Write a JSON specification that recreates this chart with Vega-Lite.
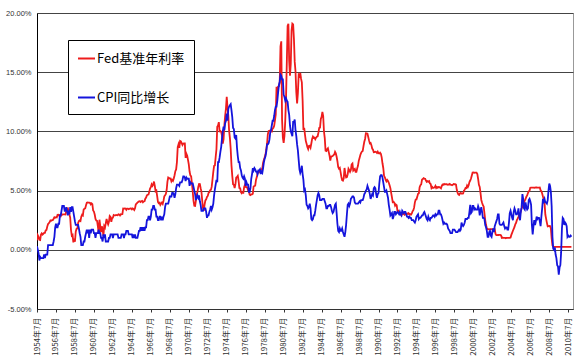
{
"$schema": "https://vega.github.io/schema/vega-lite/v6.json",
"width": 536, "height": 296,
"autosize": {"type": "none"},
"padding": {"left": 37, "top": 13, "right": 4, "bottom": 48},
"background": "white",
"config": {"view": {"stroke": "#999", "strokeWidth": 1}},
"data": {"values": [
{"m":0,"f":0.8,"c":0.3},{"m":1,"f":1.22,"c":0},{"m":2,"f":1.07,"c":-0.3},{"m":3,"f":0.85,"c":-0.9},{"m":4,"f":0.83,"c":-0.6},{"m":5,"f":1.28,"c":-0.7},
{"m":6,"f":1.39,"c":-0.7},{"m":7,"f":1.29,"c":-0.7},{"m":8,"f":1.35,"c":-0.7},{"m":9,"f":1.43,"c":-0.4},{"m":10,"f":1.43,"c":-0.7},{"m":11,"f":1.64,"c":-0.4},{"m":12,"f":1.68,"c":-0.4},{"m":13,"f":1.96,"c":-0.4},{"m":14,"f":2.18,"c":0.4},{"m":15,"f":2.24,"c":0.4},{"m":16,"f":2.35,"c":0.4},{"m":17,"f":2.48,"c":0.4},
{"m":18,"f":2.45,"c":0.4},{"m":19,"f":2.5,"c":0.4},{"m":20,"f":2.5,"c":0.4},{"m":21,"f":2.62,"c":0.7},{"m":22,"f":2.75,"c":1.1},{"m":23,"f":2.71,"c":1.9},{"m":24,"f":2.75,"c":2.2},{"m":25,"f":2.73,"c":1.9},{"m":26,"f":2.95,"c":1.9},{"m":27,"f":2.96,"c":2.2},{"m":28,"f":2.88,"c":2.2},{"m":29,"f":2.94,"c":2.9},
{"m":30,"f":2.84,"c":2.9},{"m":31,"f":3.0,"c":3.3},{"m":32,"f":2.96,"c":3.7},{"m":33,"f":3.0,"c":3.7},{"m":34,"f":3.0,"c":3.7},{"m":35,"f":3.0,"c":3.3},{"m":36,"f":2.99,"c":3.3},{"m":37,"f":3.24,"c":3.6},{"m":38,"f":3.47,"c":3.3},{"m":39,"f":3.5,"c":2.9},{"m":40,"f":3.28,"c":3.3},{"m":41,"f":2.98,"c":3.0},
{"m":42,"f":2.72,"c":3.6},{"m":43,"f":1.67,"c":3.2},{"m":44,"f":1.2,"c":3.6},{"m":45,"f":1.26,"c":3.6},{"m":46,"f":0.63,"c":3.2},{"m":47,"f":0.93,"c":2.8},{"m":48,"f":0.68,"c":2.4},{"m":49,"f":1.53,"c":2.1},{"m":50,"f":1.76,"c":2.1},{"m":51,"f":1.8,"c":2.1},{"m":52,"f":2.27,"c":2.1},{"m":53,"f":2.42,"c":1.8},
{"m":54,"f":2.48,"c":1.4},{"m":55,"f":2.43,"c":1.1},{"m":56,"f":2.8,"c":0.4},{"m":57,"f":2.96,"c":0.4},{"m":58,"f":2.9,"c":0.4},{"m":59,"f":3.39,"c":0.7},{"m":60,"f":3.47,"c":0.7},{"m":61,"f":3.5,"c":1.1},{"m":62,"f":3.76,"c":1.4},{"m":63,"f":3.98,"c":1.7},{"m":64,"f":4.0,"c":1.4},{"m":65,"f":3.99,"c":1.7},
{"m":66,"f":3.99,"c":1.0},{"m":67,"f":3.97,"c":1.7},{"m":68,"f":3.84,"c":1.4},{"m":69,"f":3.92,"c":1.7},{"m":70,"f":3.85,"c":1.7},{"m":71,"f":3.32,"c":1.7},{"m":72,"f":3.23,"c":1.4},{"m":73,"f":2.98,"c":1.4},{"m":74,"f":2.6,"c":1.0},{"m":75,"f":2.47,"c":1.4},{"m":76,"f":2.44,"c":1.4},{"m":77,"f":1.98,"c":1.4},
{"m":78,"f":1.45,"c":1.7},{"m":79,"f":2.54,"c":1.4},{"m":80,"f":2.02,"c":1.4},{"m":81,"f":1.49,"c":1.0},{"m":82,"f":1.98,"c":1.0},{"m":83,"f":1.73,"c":0.7},{"m":84,"f":1.17,"c":1.3},{"m":85,"f":2.0,"c":1.0},{"m":86,"f":1.88,"c":1.3},{"m":87,"f":2.26,"c":0.7},{"m":88,"f":2.61,"c":0.7},{"m":89,"f":2.33,"c":0.7},
{"m":90,"f":2.15,"c":0.7},{"m":91,"f":2.37,"c":1.0},{"m":92,"f":2.85,"c":1.0},{"m":93,"f":2.78,"c":1.3},{"m":94,"f":2.36,"c":1.3},{"m":95,"f":2.68,"c":1.3},{"m":96,"f":2.71,"c":1.0},{"m":97,"f":2.93,"c":1.3},{"m":98,"f":2.9,"c":1.3},{"m":99,"f":2.9,"c":1.3},{"m":100,"f":2.94,"c":1.3},{"m":101,"f":2.93,"c":1.3},
{"m":102,"f":2.92,"c":1.3},{"m":103,"f":3.0,"c":1.0},{"m":104,"f":2.98,"c":1.0},{"m":105,"f":2.9,"c":1.0},{"m":106,"f":3.0,"c":1.0},{"m":107,"f":2.99,"c":1.3},{"m":108,"f":3.02,"c":1.3},{"m":109,"f":3.49,"c":1.3},{"m":110,"f":3.48,"c":1.0},{"m":111,"f":3.5,"c":1.3},{"m":112,"f":3.48,"c":1.3},{"m":113,"f":3.38,"c":1.6},
{"m":114,"f":3.48,"c":1.6},{"m":115,"f":3.48,"c":1.6},{"m":116,"f":3.43,"c":1.3},{"m":117,"f":3.47,"c":1.3},{"m":118,"f":3.5,"c":1.3},{"m":119,"f":3.5,"c":1.3},{"m":120,"f":3.42,"c":1.3},{"m":121,"f":3.5,"c":1.0},{"m":122,"f":3.45,"c":1.3},{"m":123,"f":3.36,"c":1.0},{"m":124,"f":3.52,"c":1.3},{"m":125,"f":3.85,"c":1.0},
{"m":126,"f":3.9,"c":1.0},{"m":127,"f":3.98,"c":1.0},{"m":128,"f":4.04,"c":1.3},{"m":129,"f":4.09,"c":1.6},{"m":130,"f":4.1,"c":1.6},{"m":131,"f":4.04,"c":1.9},{"m":132,"f":4.09,"c":1.6},{"m":133,"f":4.12,"c":1.9},{"m":134,"f":4.01,"c":1.6},{"m":135,"f":4.08,"c":1.9},{"m":136,"f":4.1,"c":1.6},{"m":137,"f":4.32,"c":1.9},
{"m":138,"f":4.42,"c":1.9},{"m":139,"f":4.6,"c":2.5},{"m":140,"f":4.65,"c":2.5},{"m":141,"f":4.67,"c":2.8},{"m":142,"f":4.9,"c":2.8},{"m":143,"f":5.17,"c":2.5},{"m":144,"f":5.3,"c":2.8},{"m":145,"f":5.53,"c":3.4},{"m":146,"f":5.4,"c":3.4},{"m":147,"f":5.53,"c":3.7},{"m":148,"f":5.76,"c":3.7},{"m":149,"f":5.4,"c":3.4},
{"m":150,"f":4.94,"c":3.4},{"m":151,"f":5.0,"c":2.8},{"m":152,"f":4.53,"c":2.8},{"m":153,"f":4.05,"c":2.5},{"m":154,"f":3.94,"c":2.5},{"m":155,"f":3.98,"c":2.8},{"m":156,"f":3.79,"c":2.8},{"m":157,"f":3.9,"c":2.5},{"m":158,"f":3.99,"c":2.8},{"m":159,"f":3.88,"c":2.5},{"m":160,"f":4.13,"c":2.8},{"m":161,"f":4.51,"c":3.0},
{"m":162,"f":4.6,"c":3.6},{"m":163,"f":4.71,"c":3.9},{"m":164,"f":5.05,"c":3.9},{"m":165,"f":5.76,"c":3.9},{"m":166,"f":6.11,"c":3.9},{"m":167,"f":6.07,"c":4.2},{"m":168,"f":6.02,"c":4.5},{"m":169,"f":6.03,"c":4.5},{"m":170,"f":5.78,"c":4.5},{"m":171,"f":5.91,"c":4.8},{"m":172,"f":5.82,"c":4.8},{"m":173,"f":6.02,"c":4.7},
{"m":174,"f":6.3,"c":4.4},{"m":175,"f":6.64,"c":4.7},{"m":176,"f":6.79,"c":5.2},{"m":177,"f":7.41,"c":5.5},{"m":178,"f":8.67,"c":5.5},{"m":179,"f":8.9,"c":5.5},{"m":180,"f":8.61,"c":5.4},{"m":181,"f":9.19,"c":5.7},{"m":182,"f":9.15,"c":5.7},{"m":183,"f":9.0,"c":5.7},{"m":184,"f":8.85,"c":5.9},{"m":185,"f":8.97,"c":6.2},
{"m":186,"f":8.98,"c":6.2},{"m":187,"f":8.98,"c":6.1},{"m":188,"f":7.76,"c":5.8},{"m":189,"f":8.1,"c":6.1},{"m":190,"f":7.94,"c":6.0},{"m":191,"f":7.6,"c":6.0},{"m":192,"f":7.21,"c":6.0},{"m":193,"f":6.61,"c":5.4},{"m":194,"f":6.29,"c":5.7},{"m":195,"f":6.2,"c":5.6},{"m":196,"f":5.6,"c":5.6},{"m":197,"f":4.9,"c":5.6},
{"m":198,"f":4.14,"c":5.3},{"m":199,"f":3.72,"c":5.0},{"m":200,"f":3.71,"c":4.7},{"m":201,"f":4.16,"c":4.2},{"m":202,"f":4.63,"c":4.4},{"m":203,"f":4.91,"c":4.6},{"m":204,"f":5.31,"c":4.4},{"m":205,"f":5.56,"c":4.6},{"m":206,"f":5.55,"c":4.1},{"m":207,"f":5.2,"c":3.8},{"m":208,"f":4.91,"c":3.3},{"m":209,"f":4.14,"c":3.3},
{"m":210,"f":3.5,"c":3.3},{"m":211,"f":3.29,"c":3.5},{"m":212,"f":3.83,"c":3.5},{"m":213,"f":4.17,"c":3.5},{"m":214,"f":4.27,"c":3.2},{"m":215,"f":4.46,"c":2.7},{"m":216,"f":4.55,"c":2.9},{"m":217,"f":4.8,"c":2.9},{"m":218,"f":4.87,"c":3.2},{"m":219,"f":5.04,"c":3.4},{"m":220,"f":5.06,"c":3.7},{"m":221,"f":5.33,"c":3.4},
{"m":222,"f":5.94,"c":3.6},{"m":223,"f":6.58,"c":3.9},{"m":224,"f":7.09,"c":4.6},{"m":225,"f":7.12,"c":5.1},{"m":226,"f":7.84,"c":5.5},{"m":227,"f":8.49,"c":5.9},{"m":228,"f":10.4,"c":5.7},{"m":229,"f":10.5,"c":7.4},{"m":230,"f":10.78,"c":7.4},{"m":231,"f":10.01,"c":7.8},{"m":232,"f":10.03,"c":8.3},{"m":233,"f":9.95,"c":8.7},
{"m":234,"f":9.65,"c":9.4},{"m":235,"f":8.97,"c":10.0},{"m":236,"f":9.35,"c":10.4},{"m":237,"f":10.51,"c":10.1},{"m":238,"f":11.31,"c":10.7},{"m":239,"f":11.93,"c":10.9},{"m":240,"f":12.92,"c":11.5},{"m":241,"f":12.01,"c":10.9},{"m":242,"f":11.34,"c":11.9},{"m":243,"f":10.06,"c":12.1},{"m":244,"f":9.45,"c":12.2},{"m":245,"f":8.53,"c":12.3},
{"m":246,"f":7.13,"c":11.8},{"m":247,"f":6.24,"c":11.2},{"m":248,"f":5.54,"c":10.3},{"m":249,"f":5.49,"c":10.2},{"m":250,"f":5.22,"c":9.5},{"m":251,"f":5.55,"c":9.4},{"m":252,"f":6.1,"c":9.7},{"m":253,"f":6.14,"c":8.6},{"m":254,"f":6.24,"c":7.9},{"m":255,"f":5.82,"c":7.4},{"m":256,"f":5.22,"c":7.4},{"m":257,"f":5.2,"c":6.9},
{"m":258,"f":4.87,"c":6.7},{"m":259,"f":4.77,"c":6.3},{"m":260,"f":4.84,"c":6.1},{"m":261,"f":4.82,"c":6.0},{"m":262,"f":5.29,"c":6.2},{"m":263,"f":5.48,"c":6.0},{"m":264,"f":5.31,"c":5.4},{"m":265,"f":5.29,"c":5.7},{"m":266,"f":5.25,"c":5.5},{"m":267,"f":5.02,"c":5.5},{"m":268,"f":4.95,"c":4.9},{"m":269,"f":4.65,"c":4.9},
{"m":270,"f":4.61,"c":5.2},{"m":271,"f":4.68,"c":6.0},{"m":272,"f":4.69,"c":6.4},{"m":273,"f":4.73,"c":6.9},{"m":274,"f":5.35,"c":6.7},{"m":275,"f":5.39,"c":6.9},{"m":276,"f":5.42,"c":6.8},{"m":277,"f":5.9,"c":6.6},{"m":278,"f":6.14,"c":6.6},{"m":279,"f":6.47,"c":6.4},{"m":280,"f":6.51,"c":6.7},{"m":281,"f":6.56,"c":6.7},
{"m":282,"f":6.7,"c":6.8},{"m":283,"f":6.78,"c":6.4},{"m":284,"f":6.79,"c":6.6},{"m":285,"f":6.89,"c":6.5},{"m":286,"f":7.36,"c":6.9},{"m":287,"f":7.6,"c":7.4},{"m":288,"f":7.81,"c":7.7},{"m":289,"f":8.04,"c":7.9},{"m":290,"f":8.45,"c":8.3},{"m":291,"f":8.96,"c":8.9},{"m":292,"f":9.76,"c":8.9},{"m":293,"f":10.03,"c":9.0},
{"m":294,"f":10.07,"c":9.3},{"m":295,"f":10.06,"c":9.9},{"m":296,"f":10.09,"c":10.1},{"m":297,"f":10.01,"c":10.5},{"m":298,"f":10.24,"c":10.9},{"m":299,"f":10.29,"c":10.9},{"m":300,"f":10.47,"c":11.3},{"m":301,"f":10.94,"c":11.8},{"m":302,"f":11.43,"c":12.1},{"m":303,"f":13.77,"c":12.1},{"m":304,"f":13.18,"c":12.6},{"m":305,"f":13.78,"c":13.3},
{"m":306,"f":13.82,"c":13.9},{"m":307,"f":14.13,"c":14.2},{"m":308,"f":17.19,"c":14.8},{"m":309,"f":17.61,"c":14.7},{"m":310,"f":10.98,"c":14.4},{"m":311,"f":9.47,"c":14.4},{"m":312,"f":9.03,"c":13.1},{"m":313,"f":9.61,"c":12.9},{"m":314,"f":10.87,"c":12.6},{"m":315,"f":12.81,"c":12.8},{"m":316,"f":15.85,"c":12.6},{"m":317,"f":18.9,"c":12.5},
{"m":318,"f":19.08,"c":11.8},{"m":319,"f":15.93,"c":11.4},{"m":320,"f":14.7,"c":10.5},{"m":321,"f":15.72,"c":10.0},{"m":322,"f":18.52,"c":9.8},{"m":323,"f":19.1,"c":9.6},{"m":324,"f":19.04,"c":10.8},{"m":325,"f":17.82,"c":10.8},{"m":326,"f":15.87,"c":11.0},{"m":327,"f":15.08,"c":10.1},{"m":328,"f":13.31,"c":9.6},{"m":329,"f":12.37,"c":8.9},
{"m":330,"f":13.22,"c":8.4},{"m":331,"f":14.78,"c":7.6},{"m":332,"f":14.68,"c":6.8},{"m":333,"f":14.94,"c":6.5},{"m":334,"f":14.45,"c":6.7},{"m":335,"f":14.15,"c":7.1},{"m":336,"f":12.59,"c":6.4},{"m":337,"f":10.12,"c":5.9},{"m":338,"f":10.31,"c":5.0},{"m":339,"f":9.71,"c":5.1},{"m":340,"f":9.2,"c":4.6},{"m":341,"f":8.95,"c":3.8},
{"m":342,"f":8.68,"c":3.7},{"m":343,"f":8.51,"c":3.5},{"m":344,"f":8.77,"c":3.6},{"m":345,"f":8.8,"c":3.9},{"m":346,"f":8.63,"c":3.5},{"m":347,"f":8.98,"c":2.6},{"m":348,"f":9.37,"c":2.5},{"m":349,"f":9.56,"c":2.6},{"m":350,"f":9.45,"c":2.9},{"m":351,"f":9.48,"c":2.9},{"m":352,"f":9.34,"c":3.3},{"m":353,"f":9.47,"c":3.8},
{"m":354,"f":9.56,"c":4.2},{"m":355,"f":9.59,"c":4.6},{"m":356,"f":9.91,"c":4.8},{"m":357,"f":10.29,"c":4.6},{"m":358,"f":10.32,"c":4.2},{"m":359,"f":11.06,"c":4.2},{"m":360,"f":11.23,"c":4.2},{"m":361,"f":11.64,"c":4.3},{"m":362,"f":11.3,"c":4.3},{"m":363,"f":9.99,"c":4.3},{"m":364,"f":9.43,"c":4.1},{"m":365,"f":8.38,"c":3.9},
{"m":366,"f":8.35,"c":3.5},{"m":367,"f":8.5,"c":3.5},{"m":368,"f":8.58,"c":3.7},{"m":369,"f":8.27,"c":3.7},{"m":370,"f":7.97,"c":3.8},{"m":371,"f":7.53,"c":3.8},{"m":372,"f":7.88,"c":3.6},{"m":373,"f":7.9,"c":3.3},{"m":374,"f":7.92,"c":3.1},{"m":375,"f":7.99,"c":3.2},{"m":376,"f":8.05,"c":3.5},{"m":377,"f":8.27,"c":3.8},
{"m":378,"f":8.14,"c":3.9},{"m":379,"f":7.86,"c":3.1},{"m":380,"f":7.48,"c":2.2},{"m":381,"f":6.99,"c":1.6},{"m":382,"f":6.85,"c":1.5},{"m":383,"f":6.92,"c":1.8},{"m":384,"f":6.56,"c":1.6},{"m":385,"f":6.17,"c":1.6},{"m":386,"f":5.89,"c":1.8},{"m":387,"f":5.85,"c":1.5},{"m":388,"f":6.04,"c":1.3},{"m":389,"f":6.91,"c":1.1},
{"m":390,"f":6.43,"c":1.5},{"m":391,"f":6.1,"c":2.1},{"m":392,"f":6.13,"c":3.0},{"m":393,"f":6.37,"c":3.8},{"m":394,"f":6.85,"c":3.9},{"m":395,"f":6.73,"c":3.7},{"m":396,"f":6.58,"c":3.9},{"m":397,"f":6.73,"c":4.3},{"m":398,"f":7.22,"c":4.4},{"m":399,"f":7.29,"c":4.5},{"m":400,"f":6.69,"c":4.5},{"m":401,"f":6.77,"c":4.4},
{"m":402,"f":6.83,"c":4.0},{"m":403,"f":6.58,"c":3.9},{"m":404,"f":6.58,"c":3.9},{"m":405,"f":6.87,"c":3.9},{"m":406,"f":7.09,"c":3.9},{"m":407,"f":7.51,"c":4.0},{"m":408,"f":7.75,"c":4.1},{"m":409,"f":8.01,"c":4.0},{"m":410,"f":8.19,"c":4.2},{"m":411,"f":8.3,"c":4.2},{"m":412,"f":8.35,"c":4.2},{"m":413,"f":8.76,"c":4.4},
{"m":414,"f":9.12,"c":4.7},{"m":415,"f":9.36,"c":4.8},{"m":416,"f":9.85,"c":5.0},{"m":417,"f":9.84,"c":5.1},{"m":418,"f":9.81,"c":5.4},{"m":419,"f":9.53,"c":5.2},{"m":420,"f":9.24,"c":5.0},{"m":421,"f":8.99,"c":4.7},{"m":422,"f":9.02,"c":4.3},{"m":423,"f":8.84,"c":4.5},{"m":424,"f":8.55,"c":4.7},{"m":425,"f":8.45,"c":4.6},
{"m":426,"f":8.23,"c":5.2},{"m":427,"f":8.24,"c":5.3},{"m":428,"f":8.28,"c":5.2},{"m":429,"f":8.26,"c":4.7},{"m":430,"f":8.18,"c":4.4},{"m":431,"f":8.29,"c":4.7},{"m":432,"f":8.15,"c":4.8},{"m":433,"f":8.13,"c":5.6},{"m":434,"f":8.2,"c":6.2},{"m":435,"f":8.11,"c":6.3},{"m":436,"f":7.81,"c":6.3},{"m":437,"f":7.31,"c":6.1},
{"m":438,"f":6.91,"c":5.7},{"m":439,"f":6.25,"c":5.3},{"m":440,"f":6.12,"c":4.9},{"m":441,"f":5.91,"c":4.9},{"m":442,"f":5.78,"c":5.0},{"m":443,"f":5.9,"c":4.7},{"m":444,"f":5.82,"c":4.4},{"m":445,"f":5.66,"c":3.8},{"m":446,"f":5.45,"c":3.4},{"m":447,"f":5.21,"c":2.9},{"m":448,"f":4.81,"c":3.0},{"m":449,"f":4.43,"c":3.1},
{"m":450,"f":4.03,"c":2.6},{"m":451,"f":4.06,"c":2.8},{"m":452,"f":3.98,"c":3.2},{"m":453,"f":3.73,"c":3.2},{"m":454,"f":3.82,"c":3.0},{"m":455,"f":3.76,"c":3.1},{"m":456,"f":3.25,"c":3.2},{"m":457,"f":3.3,"c":3.1},{"m":458,"f":3.22,"c":3.0},{"m":459,"f":3.1,"c":3.2},{"m":460,"f":3.09,"c":3.0},{"m":461,"f":2.92,"c":2.9},
{"m":462,"f":3.02,"c":3.3},{"m":463,"f":3.03,"c":3.2},{"m":464,"f":3.07,"c":3.1},{"m":465,"f":2.96,"c":3.2},{"m":466,"f":3.0,"c":3.2},{"m":467,"f":3.04,"c":3.0},{"m":468,"f":3.06,"c":2.8},{"m":469,"f":3.03,"c":2.8},{"m":470,"f":3.09,"c":2.7},{"m":471,"f":2.99,"c":2.8},{"m":472,"f":3.02,"c":2.7},{"m":473,"f":2.96,"c":2.7},
{"m":474,"f":3.05,"c":2.5},{"m":475,"f":3.25,"c":2.5},{"m":476,"f":3.34,"c":2.5},{"m":477,"f":3.56,"c":2.4},{"m":478,"f":4.01,"c":2.3},{"m":479,"f":4.25,"c":2.5},{"m":480,"f":4.26,"c":2.8},{"m":481,"f":4.47,"c":2.9},{"m":482,"f":4.73,"c":3.0},{"m":483,"f":4.76,"c":2.6},{"m":484,"f":5.29,"c":2.7},{"m":485,"f":5.45,"c":2.7},
{"m":486,"f":5.53,"c":2.8},{"m":487,"f":5.92,"c":2.9},{"m":488,"f":5.98,"c":2.9},{"m":489,"f":6.05,"c":3.1},{"m":490,"f":6.01,"c":3.2},{"m":491,"f":6.0,"c":3.0},{"m":492,"f":5.85,"c":2.8},{"m":493,"f":5.74,"c":2.6},{"m":494,"f":5.8,"c":2.5},{"m":495,"f":5.76,"c":2.8},{"m":496,"f":5.8,"c":2.6},{"m":497,"f":5.6,"c":2.5},
{"m":498,"f":5.56,"c":2.7},{"m":499,"f":5.22,"c":2.7},{"m":500,"f":5.31,"c":2.8},{"m":501,"f":5.22,"c":2.9},{"m":502,"f":5.24,"c":2.9},{"m":503,"f":5.27,"c":2.8},{"m":504,"f":5.4,"c":3.0},{"m":505,"f":5.22,"c":2.9},{"m":506,"f":5.3,"c":3.0},{"m":507,"f":5.24,"c":3.0},{"m":508,"f":5.31,"c":3.3},{"m":509,"f":5.29,"c":3.3},
{"m":510,"f":5.25,"c":3.0},{"m":511,"f":5.19,"c":3.0},{"m":512,"f":5.39,"c":2.8},{"m":513,"f":5.51,"c":2.5},{"m":514,"f":5.5,"c":2.2},{"m":515,"f":5.56,"c":2.3},{"m":516,"f":5.52,"c":2.2},{"m":517,"f":5.54,"c":2.2},{"m":518,"f":5.54,"c":2.2},{"m":519,"f":5.5,"c":2.1},{"m":520,"f":5.52,"c":1.8},{"m":521,"f":5.5,"c":1.7},
{"m":522,"f":5.56,"c":1.6},{"m":523,"f":5.51,"c":1.4},{"m":524,"f":5.49,"c":1.4},{"m":525,"f":5.45,"c":1.4},{"m":526,"f":5.49,"c":1.7},{"m":527,"f":5.56,"c":1.7},{"m":528,"f":5.54,"c":1.7},{"m":529,"f":5.55,"c":1.6},{"m":530,"f":5.51,"c":1.5},{"m":531,"f":5.07,"c":1.5},{"m":532,"f":4.83,"c":1.5},{"m":533,"f":4.68,"c":1.6},
{"m":534,"f":4.63,"c":1.7},{"m":535,"f":4.76,"c":1.6},{"m":536,"f":4.81,"c":1.7},{"m":537,"f":4.74,"c":2.3},{"m":538,"f":4.74,"c":2.1},{"m":539,"f":4.76,"c":2.0},{"m":540,"f":4.99,"c":2.1},{"m":541,"f":5.07,"c":2.3},{"m":542,"f":5.22,"c":2.6},{"m":543,"f":5.2,"c":2.6},{"m":544,"f":5.42,"c":2.6},{"m":545,"f":5.3,"c":2.7},
{"m":546,"f":5.45,"c":2.7},{"m":547,"f":5.73,"c":3.2},{"m":548,"f":5.85,"c":3.8},{"m":549,"f":6.02,"c":3.1},{"m":550,"f":6.27,"c":3.2},{"m":551,"f":6.53,"c":3.7},{"m":552,"f":6.54,"c":3.7},{"m":553,"f":6.5,"c":3.4},{"m":554,"f":6.52,"c":3.5},{"m":555,"f":6.51,"c":3.4},{"m":556,"f":6.51,"c":3.4},{"m":557,"f":6.4,"c":3.4},
{"m":558,"f":5.98,"c":3.7},{"m":559,"f":5.49,"c":3.5},{"m":560,"f":5.31,"c":2.9},{"m":561,"f":4.8,"c":3.3},{"m":562,"f":4.21,"c":3.6},{"m":563,"f":3.97,"c":3.2},{"m":564,"f":3.77,"c":2.7},{"m":565,"f":3.65,"c":2.7},{"m":566,"f":3.07,"c":2.6},{"m":567,"f":2.49,"c":2.1},{"m":568,"f":2.09,"c":1.9},{"m":569,"f":1.82,"c":1.6},
{"m":570,"f":1.73,"c":1.1},{"m":571,"f":1.74,"c":1.1},{"m":572,"f":1.73,"c":1.5},{"m":573,"f":1.75,"c":1.6},{"m":574,"f":1.75,"c":1.2},{"m":575,"f":1.75,"c":1.1},{"m":576,"f":1.73,"c":1.5},{"m":577,"f":1.74,"c":1.8},{"m":578,"f":1.75,"c":1.5},{"m":579,"f":1.75,"c":2.0},{"m":580,"f":1.34,"c":2.2},{"m":581,"f":1.24,"c":2.4},
{"m":582,"f":1.24,"c":2.6},{"m":583,"f":1.26,"c":3.0},{"m":584,"f":1.25,"c":3.0},{"m":585,"f":1.26,"c":2.2},{"m":586,"f":1.26,"c":2.1},{"m":587,"f":1.22,"c":2.1},{"m":588,"f":1.01,"c":2.1},{"m":589,"f":1.03,"c":2.2},{"m":590,"f":1.01,"c":2.3},{"m":591,"f":1.01,"c":2.0},{"m":592,"f":1.0,"c":1.8},{"m":593,"f":0.98,"c":1.9},
{"m":594,"f":1.0,"c":1.9},{"m":595,"f":1.01,"c":1.7},{"m":596,"f":1.0,"c":1.7},{"m":597,"f":1.0,"c":2.3},{"m":598,"f":1.0,"c":3.1},{"m":599,"f":1.03,"c":3.3},{"m":600,"f":1.26,"c":3.0},{"m":601,"f":1.43,"c":2.7},{"m":602,"f":1.61,"c":2.5},{"m":603,"f":1.76,"c":3.2},{"m":604,"f":1.93,"c":3.5},{"m":605,"f":2.16,"c":3.3},
{"m":606,"f":2.28,"c":3.0},{"m":607,"f":2.5,"c":3.0},{"m":608,"f":2.63,"c":3.1},{"m":609,"f":2.79,"c":3.5},{"m":610,"f":3.0,"c":2.8},{"m":611,"f":3.04,"c":2.5},{"m":612,"f":3.26,"c":3.2},{"m":613,"f":3.5,"c":3.6},{"m":614,"f":3.62,"c":4.7},{"m":615,"f":3.78,"c":4.3},{"m":616,"f":4.0,"c":3.5},{"m":617,"f":4.16,"c":3.4},
{"m":618,"f":4.29,"c":4.0},{"m":619,"f":4.49,"c":3.6},{"m":620,"f":4.59,"c":3.4},{"m":621,"f":4.79,"c":3.5},{"m":622,"f":4.94,"c":4.2},{"m":623,"f":4.99,"c":4.3},{"m":624,"f":5.24,"c":4.1},{"m":625,"f":5.25,"c":3.8},{"m":626,"f":5.25,"c":2.1},{"m":627,"f":5.25,"c":1.3},{"m":628,"f":5.25,"c":2.0},{"m":629,"f":5.24,"c":2.5},
{"m":630,"f":5.25,"c":2.1},{"m":631,"f":5.26,"c":2.4},{"m":632,"f":5.26,"c":2.8},{"m":633,"f":5.25,"c":2.6},{"m":634,"f":5.25,"c":2.7},{"m":635,"f":5.25,"c":2.7},{"m":636,"f":5.26,"c":2.4},{"m":637,"f":5.02,"c":2.0},{"m":638,"f":4.94,"c":2.8},{"m":639,"f":4.76,"c":3.5},{"m":640,"f":4.49,"c":4.3},{"m":641,"f":4.24,"c":4.1},
{"m":642,"f":3.94,"c":4.3},{"m":643,"f":2.98,"c":4.0},{"m":644,"f":2.61,"c":4.0},{"m":645,"f":2.28,"c":3.9},{"m":646,"f":1.98,"c":4.2},{"m":647,"f":2.0,"c":5.0},{"m":648,"f":2.01,"c":5.6},{"m":649,"f":2.0,"c":5.4},{"m":650,"f":1.81,"c":4.9},{"m":651,"f":0.97,"c":3.7},{"m":652,"f":0.39,"c":1.1},{"m":653,"f":0.25,"c":0.1},
{"m":654,"f":0.25,"c":0.0},{"m":655,"f":0.25,"c":0.2},{"m":656,"f":0.25,"c":-0.4},{"m":657,"f":0.25,"c":-0.7},{"m":658,"f":0.25,"c":-1.3},{"m":659,"f":0.25,"c":-1.4},{"m":660,"f":0.25,"c":-2.1},{"m":661,"f":0.25,"c":-1.5},{"m":662,"f":0.25,"c":-1.3},{"m":663,"f":0.25,"c":-0.2},{"m":664,"f":0.25,"c":1.8},{"m":665,"f":0.25,"c":2.7},
{"m":666,"f":0.25,"c":2.6},{"m":667,"f":0.25,"c":2.1},{"m":668,"f":0.25,"c":2.3},{"m":669,"f":0.25,"c":2.2},{"m":670,"f":0.25,"c":2.0},{"m":671,"f":0.25,"c":1.1},{"m":672,"f":0.25,"c":1.2},{"m":673,"f":0.25,"c":1.1},{"m":674,"f":0.25,"c":1.1},{"m":675,"f":0.25,"c":1.2},{"m":676,"f":0.25,"c":1.1}
]},
"transform": [{"fold": ["f", "c"], "as": ["s", "v"]}],
"mark": {"type": "line", "strokeWidth": 1.8, "clip": true},
"encoding": {
  "x": {"field": "m", "type": "quantitative",
    "scale": {"domain": [0, 678], "nice": false, "zero": false},
    "axis": {"title": null, "values": [0,24,48,72,96,120,144,168,192,216,240,264,288,312,336,360,384,408,432,456,480,504,528,552,576,600,624,648,672],
      "labelExpr": "(1954 + datum.value / 12) + '年7月'", "labelAngle": 270, "labelFont": "Noto Sans CJK SC", "labelFontSize": 8, "labelColor": "#333",
      "tickSize": 3, "tickColor": "#333", "domainColor": "#333", "grid": false, "labelFlush": false, "labelOverlap": false, "labelPadding": 5}},
  "y": {"field": "v", "type": "quantitative",
    "scale": {"domain": [-5, 20], "nice": false},
    "axis": {"title": null, "values": [-5, 0, 5, 10, 15, 20],
      "labelExpr": "replace(format(datum.value / 100, '.2%'), '−', '-')", "labelFont": "Liberation Sans", "labelFontSize": 7.5, "labelColor": "#333",
      "ticks": false, "labelPadding": 6, "domainColor": "#000", "grid": true, "gridColor": "#444", "gridOpacity": 1}},
  "color": {"field": "s", "type": "nominal",
    "scale": {"domain": ["f", "c"], "range": ["#ee1c1c", "#1414dc"]},
    "legend": {"title": null, "orient": "none", "legendX": 31, "legendY": 27,
      "labelExpr": "datum.value == 'f' ? 'Fed基准年利率' : 'CPI同比增长'",
      "symbolType": "stroke", "symbolSize": 289, "symbolStrokeWidth": 2,
      "labelFont": "Noto Sans CJK SC", "labelFontSize": 13, "labelColor": "#000", "labelOffset": 1, "labelLimit": 200,
      "padding": 9, "rowPadding": 22, "strokeColor": "#000", "fillColor": "#fff"}}
}
}
